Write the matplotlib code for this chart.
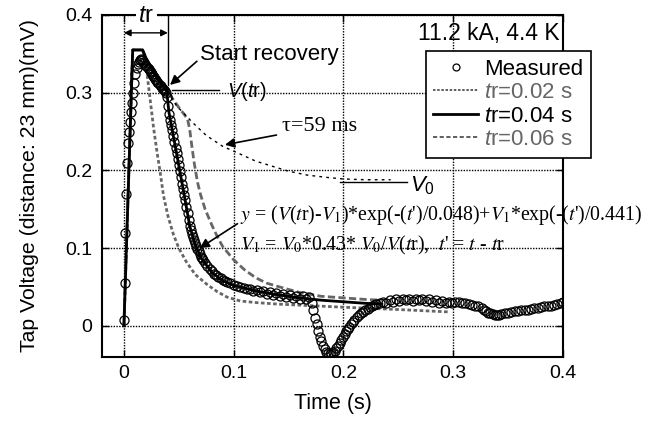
import matplotlib
matplotlib.use('Agg')
import matplotlib.pyplot as plt
from matplotlib.lines import Line2D

plt.rcParams['font.family'] = ['Liberation Sans', 'DejaVu Sans']
plt.rcParams['mathtext.fontset'] = 'custom'
plt.rcParams['mathtext.rm'] = 'Liberation Sans'
plt.rcParams['mathtext.it'] = 'Liberation Sans:italic'
plt.rcParams['mathtext.bf'] = 'Liberation Sans:bold'

# ---------------- data ----------------
# measured points: (time in ms, voltage in mV)
meas_points = [
    (0, 0.008), (0.7, 0.055), (1.4, 0.120), (2.1, 0.170), (2.8, 0.210), (3.5, 0.235),
    (4.5, 0.250), (5.5, 0.262), (6.5, 0.275), (7.5, 0.287), (8.5, 0.300), (9.5, 0.313),
    (10.5, 0.324), (11.5, 0.332), (12.5, 0.337), (13.5, 0.340), (14.5, 0.342), (15.5, 0.343),
    (16.5, 0.342), (17.5, 0.340), (18.5, 0.338), (19.5, 0.336), (20.5, 0.334), (21.5, 0.332),
    (22.5, 0.330), (23.5, 0.328), (24.5, 0.326), (25.5, 0.324), (26.5, 0.322), (27.5, 0.320),
    (28.5, 0.318), (29.5, 0.316), (30.5, 0.314), (31.5, 0.312), (32.5, 0.310), (33.5, 0.308),
    (34.5, 0.306), (35.5, 0.305), (36.5, 0.304), (37.5, 0.302), (38.5, 0.300), (39.5, 0.295),
    (40, 0.283), (41, 0.272), (42, 0.265), (43, 0.259), (44, 0.252), (45, 0.244), (46, 0.236),
    (47, 0.229), (48, 0.222), (49, 0.215), (50, 0.207), (51, 0.199), (52, 0.191), (53, 0.183),
    (54, 0.176), (55, 0.169), (56, 0.162), (57, 0.153), (58, 0.145), (59, 0.136), (60, 0.128),
    (61, 0.123), (62, 0.118), (63, 0.114), (64, 0.110), (65, 0.107), (66, 0.103), (67, 0.099),
    (68, 0.096), (69, 0.092), (70, 0.089), (71, 0.087), (72, 0.085), (74, 0.081), (76, 0.077),
    (78, 0.073), (80, 0.070), (82, 0.067), (84, 0.065), (86, 0.063), (88, 0.061), (90, 0.059),
    (92, 0.058), (94, 0.057), (97, 0.055), (100, 0.053), (103, 0.051), (106, 0.050),
    (109, 0.049), (112, 0.047), (115, 0.048), (118, 0.045), (121, 0.046), (124, 0.043),
    (127, 0.045), (130, 0.041), (133, 0.043), (136, 0.040), (139, 0.042), (142, 0.038),
    (145, 0.041), (148, 0.037), (151, 0.040), (154, 0.036), (157, 0.039), (160, 0.035),
    (163, 0.038), (166, 0.034), (169, 0.037), (171, 0.030), (172.5, 0.020), (174, 0.010),
    (175.5, 0.002), (177, -0.006), (178.5, -0.014), (180, -0.020), (181.5, -0.026),
    (183, -0.030), (184.5, -0.033), (186, -0.035), (187.5, -0.036), (189, -0.035),
    (190.5, -0.034), (192, -0.032), (193.5, -0.029), (195, -0.026), (196.5, -0.022),
    (198, -0.018), (199.5, -0.014), (201, -0.010), (202.5, -0.007), (204, -0.004),
    (205.5, -0.001), (207, 0.002), (208.5, 0.005), (210, 0.008), (212, 0.011), (214, 0.014),
    (216, 0.016), (218, 0.018), (220, 0.020), (222, 0.022), (224, 0.024), (226, 0.025),
    (228, 0.027), (230, 0.028), (233, 0.029), (236, 0.031), (239, 0.030), (242, 0.033),
    (245, 0.031), (248, 0.034), (251, 0.032), (254, 0.035), (257, 0.033), (260, 0.034),
    (263, 0.032), (266, 0.035), (269, 0.033), (272, 0.034), (275, 0.032), (278, 0.034),
    (281, 0.031), (284, 0.033), (287, 0.030), (290, 0.032), (293, 0.030), (296, 0.031),
    (299, 0.030), (302, 0.031), (305, 0.031), (308, 0.030), (311, 0.029), (314, 0.028),
    (317, 0.027), (320, 0.026), (323, 0.025), (326, 0.023), (328, 0.021), (330, 0.019),
    (332, 0.017), (334, 0.016), (336, 0.015), (338, 0.014), (340, 0.014), (342, 0.014),
    (344, 0.015), (347, 0.016), (350, 0.017), (353, 0.018), (356, 0.019), (359, 0.019),
    (362, 0.020), (365, 0.021), (368, 0.021), (371, 0.022), (374, 0.023), (377, 0.023),
    (380, 0.024), (383, 0.025), (386, 0.025), (389, 0.026), (392, 0.027), (395, 0.028),
    (398, 0.029), (400, 0.031),
]
meas_t = [p[0] / 1000 for p in meas_points]
meas_v = [p[1] for p in meas_points]

# model curves (time in s, voltage in mV)
tr02_t = [0, 0.008, 0.017, 0.019, 0.021, 0.024, 0.027, 0.030, 0.033, 0.036, 0.040, 0.045,
          0.050, 0.057, 0.065, 0.076, 0.085, 0.094, 0.106, 0.120, 0.140, 0.170, 0.200, 0.250, 0.295]
tr02_v = [0, 0.355, 0.355, 0.345, 0.325, 0.290, 0.255, 0.225, 0.198, 0.168, 0.142, 0.118,
          0.100, 0.082, 0.066, 0.053, 0.044, 0.037, 0.032, 0.030, 0.028, 0.026, 0.024, 0.021, 0.018]

tr04_t = [0, 0.008, 0.017, 0.020, 0.025, 0.030, 0.035, 0.039, 0.041, 0.044, 0.048, 0.052,
          0.056, 0.060, 0.065, 0.070, 0.080, 0.090, 0.100, 0.120, 0.140, 0.160, 0.180, 0.200,
          0.220, 0.235]
tr04_v = [0, 0.355, 0.355, 0.345, 0.332, 0.320, 0.310, 0.302, 0.275, 0.252, 0.222, 0.191,
          0.160, 0.128, 0.105, 0.088, 0.069, 0.058, 0.052, 0.045, 0.040, 0.036, 0.033, 0.031,
          0.029, 0.028]

tr06_t = [0, 0.008, 0.017, 0.020, 0.025, 0.030, 0.035, 0.040, 0.045, 0.050, 0.055, 0.058,
          0.060, 0.062, 0.064, 0.067, 0.070, 0.074, 0.080, 0.085, 0.090, 0.100, 0.110, 0.120,
          0.130, 0.142, 0.160, 0.180, 0.200, 0.220, 0.235]
tr06_v = [0, 0.355, 0.355, 0.345, 0.332, 0.320, 0.310, 0.302, 0.291, 0.281, 0.272, 0.266,
          0.252, 0.230, 0.210, 0.185, 0.168, 0.150, 0.130, 0.115, 0.102, 0.085, 0.072, 0.062,
          0.055, 0.050, 0.043, 0.038, 0.036, 0.034, 0.033]

tau_t = [0.040, 0.048, 0.063, 0.075, 0.090, 0.106, 0.120, 0.136, 0.150, 0.167, 0.185, 0.200,
         0.220, 0.243]
tau_v = [0.302, 0.283, 0.261, 0.245, 0.231, 0.221, 0.212, 0.205, 0.199, 0.194, 0.191, 0.189,
         0.188, 0.188]

x_ticks = [0, 0.1, 0.2, 0.3, 0.4]
x_tick_labels = ['0', '0.1', '0.2', '0.3', '0.4']
y_ticks = [0, 0.1, 0.2, 0.3, 0.4]
y_tick_labels = ['0', '0.1', '0.2', '0.3', '0.4']

# ---------------- figure ----------------
fig = plt.figure(figsize=(6.52, 4.28), dpi=100)
ax = fig.add_axes([0.1564, 0.166, 0.707, 0.799])

gray = '#666666'
ax.plot(tr02_t, tr02_v, color=gray, lw=2, ls=(0, (1.3, 0.9)), zorder=3)
ax.plot(tr06_t, tr06_v, color=gray, lw=2, ls=(0, (2.6, 1.2)), zorder=3)
ax.plot(tr04_t, tr04_v, color='black', lw=2, zorder=3)
ax.plot(tau_t, tau_v, color='black', lw=1, ls=(0, (2, 3)), zorder=3)
ax.plot(meas_t, meas_v, ls='none', marker='o', ms=6.5, mfc='none', mec='black',
        mew=0.9, zorder=4)

ax.set_xlim(-0.02, 0.4)
ax.set_ylim(-0.04, 0.4)
ax.set_xticks(x_ticks)
ax.set_xticklabels(x_tick_labels)
ax.set_yticks(y_ticks)
ax.set_yticklabels(y_tick_labels)
ax.tick_params(direction='in', top=True, right=True, length=5, width=1, labelsize=14)
ax.tick_params(axis='y', pad=7)
ax.tick_params(axis='x', pad=6)
ax.grid(True, ls=(0, (1, 1)), color='black', lw=1)
for s in ax.spines.values():
    s.set_linewidth(1.5)

ax.set_xlabel('Time (s)', fontsize=15.5, labelpad=8)
ax.set_ylabel('Tap Voltage (distance: 23 mm)(mV)', fontsize=15.3, labelpad=19)

# legend
handles = [Line2D([], [], ls='none', marker='o', ms=5, mfc='none', mec='black', mew=0.9),
           Line2D([], [], color='#444444', lw=1.2, ls=(0, (1.5, 1))),
           Line2D([], [], color='black', lw=2),
           Line2D([], [], color='#444444', lw=1.2, ls=(0, (2.5, 1.5)))]
labels = ['Measured', '$t$r=0.02 s', '$t$r=0.04 s', '$t$r=0.06 s']
leg = ax.legend(handles, labels, loc='upper left', bbox_to_anchor=(0.702, 0.895),
                borderaxespad=0, fontsize=16, handlelength=2.0, handletextpad=0.3,
                borderpad=0.35, labelspacing=0.11, fancybox=False, framealpha=1,
                edgecolor='black')
leg.get_frame().set_linewidth(1.2)
leg.set_zorder(10)
for txt, col in zip(leg.get_texts(), ['black', gray, 'black', gray]):
    txt.set_color(col)

# annotations
ax.text(0.993, 0.947, '11.2 kA, 4.4 K', transform=ax.transAxes, ha='right', va='center',
        fontsize=16.5, zorder=6)

ax.plot([0.04, 0.04], [0.4, 0.31], color='black', lw=1, zorder=5)
ax.annotate('', xy=(0.0, 0.377), xytext=(0.04, 0.377),
            arrowprops=dict(arrowstyle='<|-|>', color='black', lw=1, mutation_scale=10,
                            shrinkA=0, shrinkB=0))
ax.text(0.0205, 0.399, '$t$r', ha='center', va='center', fontsize=17,
        bbox=dict(facecolor='white', edgecolor='none', pad=1.5), zorder=7, clip_on=False)

ax.annotate('Start recovery', xy=(0.042, 0.31), xytext=(0.069, 0.349),
            fontsize=16, va='center', ha='left',
            arrowprops=dict(arrowstyle='-|>', color='black', lw=1.2, mutation_scale=14,
                            shrinkA=0, shrinkB=0, relpos=(0.0, 0.3)))

ax.plot([0.044, 0.087], [0.3035, 0.3035], color='black', lw=1, zorder=5)
ax.text(0.094, 0.302, '$V$($t$r)', fontsize=14.5, va='center', ha='left')

ax.plot([0.197, 0.258], [0.185, 0.185], color='black', lw=1, zorder=5)
ax.text(0.261, 0.180, '$V_0$', fontsize=16, va='center', ha='left')

ax.annotate('τ=59 ms', xy=(0.092, 0.233), xytext=(0.144, 0.256),
            fontsize=16, va='center', ha='left', family='Liberation Serif',
            arrowprops=dict(arrowstyle='-|>', color='black', lw=1.2, mutation_scale=14,
                            shrinkA=2, shrinkB=0))

eq1 = r"$y$ = ($V$($t$r)-$V_1$)*exp(-($t$')/0.048)+$V_1$*exp(-($t$')/0.441)"
eq2 = r"$V_1$ = $V_0$*0.43* $V_0$/$V$($t$r),  $t$' = $t$ - $t$r"
ax.annotate(eq1, xy=(0.069, 0.10), xytext=(0.106, 0.143), fontsize=14.3,
            family='Liberation Serif', math_fontfamily='stix', va='center', ha='left',
            annotation_clip=False,
            arrowprops=dict(arrowstyle='-|>', color='black', lw=1.2, mutation_scale=14,
                            shrinkA=0, shrinkB=0, relpos=(0.0, 0.2)))
ax.text(0.106, 0.104, eq2, fontsize=14.3, family='Liberation Serif', math_fontfamily='stix',
        va='center', ha='left')

fig.savefig('out.png', dpi=100)
